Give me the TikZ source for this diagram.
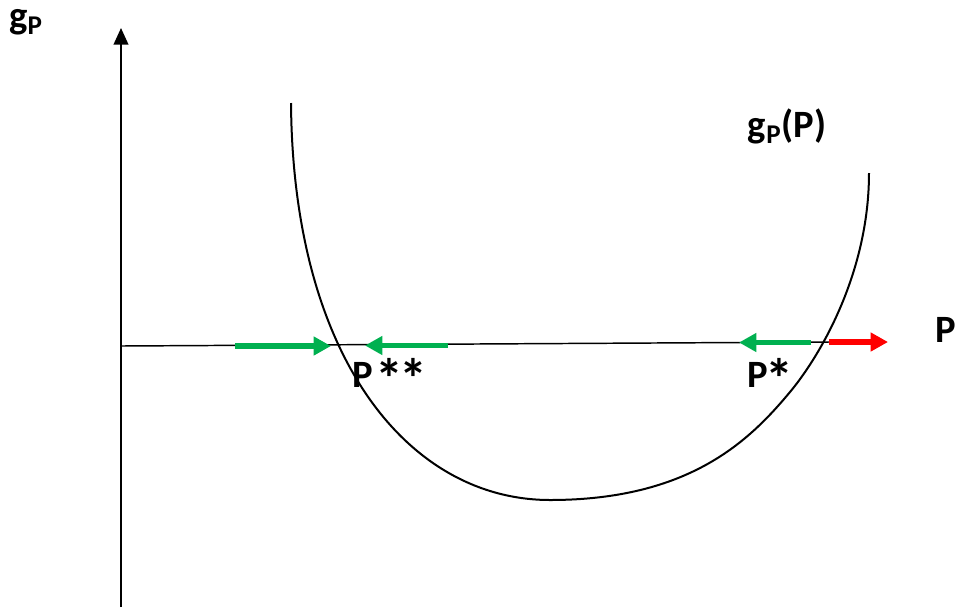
\documentclass[tikz,border=0pt]{standalone}
\usepackage{fontspec}
\usepackage{graphicx}
\setmainfont{Carlito}
\usetikzlibrary{arrows.meta}
\definecolor{flowgreen}{HTML}{00B050}
\definecolor{flowred}{HTML}{FF0000}
\newcommand{\bigast}{\raisebox{-0.3em}{\scalebox{1.45}{*}}}

\begin{document}
\begin{tikzpicture}[x=0.75pt,y=-0.75pt,
  axis/.style={line width=1.5pt},
  curve/.style={line width=1.5pt},
  flow/.style={line width=4pt,-{Triangle[length=13pt,width=13.5pt]}},
  lbl/.style={font=\bfseries\fontsize{29}{32}\selectfont,inner sep=0pt}]
\useasboundingbox (0,0) rectangle (958,608);
% axes
\coordinate (O) at (121,346);
\coordinate (ytop) at (121,28);
\coordinate (ybot) at (121,607);
\coordinate (xend) at (830,342);
\draw[axis,-{Triangle[length=12.5pt,width=11pt]}] (ybot)--(ytop);
\draw[line width=1.1pt] (O)--(xend);
% the curve g_P(P)
\coordinate (cl) at (291,103);
\coordinate (cm) at (550,500);
\coordinate (cj) at (790,392);
\coordinate (cr) at (869,173);
\draw[curve] (cl) .. controls (293,360) and (410,500) .. (cm)
  .. controls (690,500) and (750,440) .. (cj)
  .. controls (820,356) and (869,273) .. (cr);
% flow arrows
\coordinate (a1) at (235,346);\coordinate (b1) at (331,346);
\coordinate (a2) at (448,345.5);\coordinate (b2) at (365,345.5);
\coordinate (a3) at (811,342.5);\coordinate (b3) at (739,342.5);
\coordinate (a4) at (829,342);\coordinate (b4) at (888,342);
\draw[flow,flowgreen](a1)--(b1);
\draw[flow,flowgreen](a2)--(b2);
\draw[flow,flowgreen](a3)--(b3);
\draw[flow,flowred](a4)--(b4);
% labels
\node[lbl] (ylab) at (26,22) {g\textsubscript{P}};
\node[lbl] (glab) at (787,126) {g\textsubscript{P}(P)};
\node[lbl] (xlab) at (946,330) {P};
\node[lbl,anchor=base west] (pss) at (352,387) {P\kern0.08em\bigast\kern-0.12em\bigast};
\node[lbl,anchor=base west] (ps) at (747,387) {P\kern-0.06em\bigast};
\end{tikzpicture}
\end{document}
